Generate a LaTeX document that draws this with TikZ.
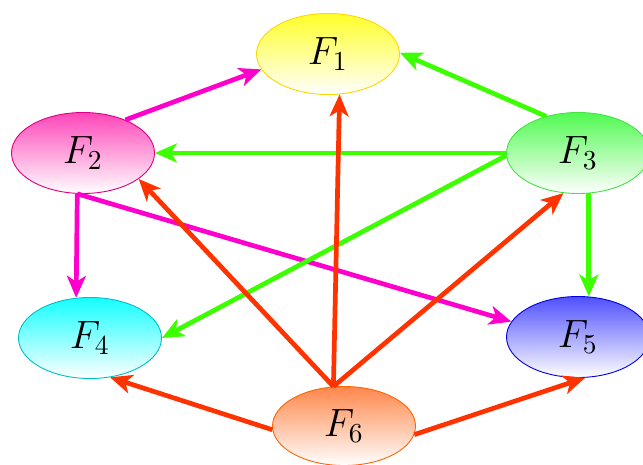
\documentclass[tikz,border=0pt]{standalone}
\usepackage{graphicx}
\usetikzlibrary{shapes.geometric,arrows.meta}
\definecolor{emag}{RGB}{255,0,204}
\definecolor{egreen}{RGB}{60,255,0}
\definecolor{ered}{RGB}{255,51,0}
\definecolor{c1t}{RGB}{255,255,40}
\definecolor{c1d}{RGB}{255,215,0}
\definecolor{c2t}{RGB}{255,70,185}
\definecolor{c2d}{RGB}{220,0,130}
\definecolor{c3t}{RGB}{80,250,80}
\definecolor{c3d}{RGB}{70,225,70}
\definecolor{c4t}{RGB}{20,255,255}
\definecolor{c4d}{RGB}{0,190,200}
\definecolor{c5t}{RGB}{80,80,255}
\definecolor{c5d}{RGB}{0,0,230}
\definecolor{c6t}{RGB}{255,135,75}
\definecolor{c6d}{RGB}{255,100,0}
\newcommand\fnlabel[1]{\scalebox{2.74}{\Large$F_{#1}$}}
\tikzset{
  fnode/.style={ellipse, minimum width=143pt, minimum height=81pt, inner sep=0pt, line width=0.9pt},
  arr/.style={line width=4.7pt, -{Stealth[length=22pt,width=19pt,inset=6pt]}},
}
\begin{document}
\begin{tikzpicture}[x=1pt,y=-1pt]
\useasboundingbox (0,0) rectangle (643,465);
\node[fnode, draw=c1d, top color=c1t, bottom color=white] (F1) at (328,54) {\fnlabel{1}};
\node[fnode, draw=c2d, top color=c2t, bottom color=white] (F2) at (83,153) {\fnlabel{2}};
\node[fnode, draw=c3d, top color=c3t, bottom color=white] (F3) at (578,153) {\fnlabel{3}};
\node[fnode, draw=c4d, top color=c4t, bottom color=white] (F4) at (90,338) {\fnlabel{4}};
\node[fnode, draw=c5d, top color=c5t, bottom color=white] (F5) at (578,337) {\fnlabel{5}};
\node[fnode, draw=c6d, top color=c6t, bottom color=white, minimum height=79pt] (F6) at (344,426) {\fnlabel{6}};
% magenta
\draw[arr, emag] (F2.38) -- (F1.193);
\draw[arr, emag] (F2.262) -- (F4.109);
\draw[arr, emag] (F2.262) -- (F5.167);
% green
\draw[arr, egreen] (F3.131) -- (F1.1);
\draw[arr, egreen] (F3.180) -- (F2.0);
\draw[arr, egreen] (F3.182) -- (F4.0);
\draw[arr, egreen] (F3.-75) -- (F5.75);
% red
\draw[arr, ered] (F6.105) -- (F1.-74);
\draw[arr, ered] (F6.105) -- (F2.-25);
\draw[arr, ered] (F6.105) -- (F3.250);
\draw[arr, ered] (F6.183) -- (F4.-63);
\draw[arr, ered] (F6.-7) -- (F5.-80);
\end{tikzpicture}
\end{document}
